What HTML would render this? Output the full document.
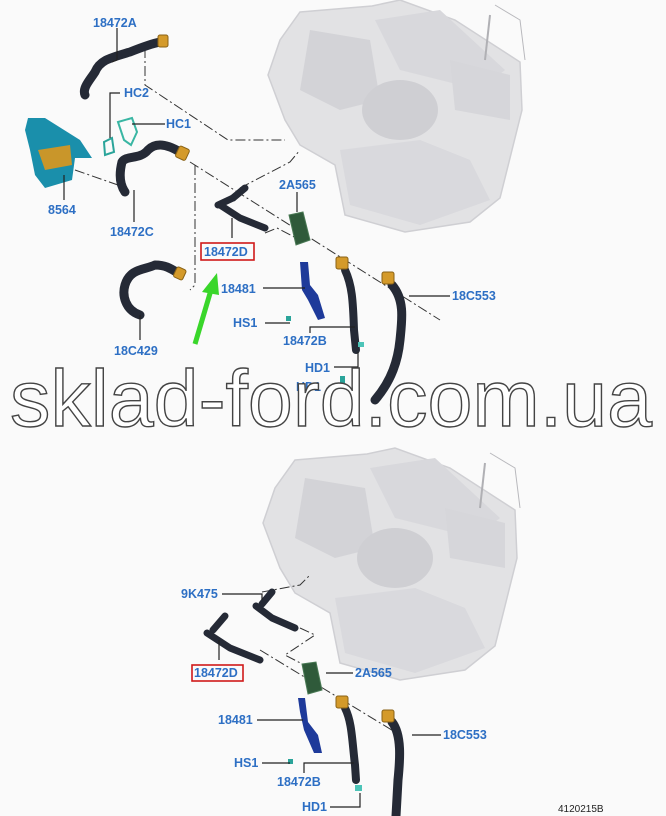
<!DOCTYPE html>
<html><head><meta charset="utf-8"><style>
html,body{margin:0;padding:0;background:#fafafa;}
svg{display:block}
.l{font-family:"Liberation Sans",sans-serif;font-weight:bold;font-size:12.5px;fill:#2d6fc4}
.ln{stroke:#222;stroke-width:1.2;fill:none}
.d{stroke:#333;stroke-width:1;fill:none;stroke-dasharray:10 3 2 3}
.h{stroke:#252a36;stroke-width:9;fill:none;stroke-linecap:round;stroke-linejoin:round}
.h2{stroke:#3c4458;stroke-width:4;fill:none;stroke-linecap:round;opacity:.6}
.o{fill:#d49a2a;stroke:#8a6215;stroke-width:1}
</style></head><body>
<svg width="666" height="816" viewBox="0 0 666 816" xmlns="http://www.w3.org/2000/svg">
<rect width="666" height="816" fill="#fafafa"/>
<defs>
<g id="unit">
<polygon points="300,12 372,6 400,0 455,20 520,62 522,110 512,150 500,198 470,222 405,232 345,215 335,165 300,145 285,120 268,75 280,40" fill="#e2e2e4" stroke="#cfcfd3" stroke-width="1.5"/>
<polygon points="310,30 370,40 380,100 340,110 300,90" fill="#d3d3d7"/>
<polygon points="375,20 440,10 505,70 480,90 400,70" fill="#d8d8dc"/>
<ellipse cx="400" cy="110" rx="38" ry="30" fill="#cfcfd3"/>
<polygon points="340,150 420,140 470,160 490,200 420,225 350,205" fill="#d9d9dd"/>
<polygon points="450,60 510,75 510,120 455,110" fill="#d6d6da"/>
<path d="M495,5 L520,20 L525,60" stroke="#b8b8bc" fill="none"/>
<path d="M490,15 L485,60" stroke="#b0b0b4" stroke-width="2"/>
</g>
</defs>
<use href="#unit"/>
<use href="#unit" transform="translate(-5,448)"/>

<!-- TOP SECTION -->
<!-- dashed lines -->
<path class="d" d="M145,48 L145,85 L228,140 L285,140"/>
<path class="d" d="M75,170 L118,185"/>
<path class="d" d="M195,165 L195,285 L190,290"/>
<path class="d" d="M190,162 L440,320"/>
<path class="d" d="M240,188 L290,162 L300,150"/>
<path class="d" d="M265,233 L277,228 L300,240"/>
<!-- 18472A -->
<path class="h" d="M85,95 C82,88 90,80 95,72 C100,60 110,58 130,52 C140,48 150,44 160,42"/>
<rect class="o" x="158" y="35" width="10" height="12" rx="2"/>
<!-- 8564 bracket -->
<polygon points="28,118 45,118 80,140 92,158 75,158 72,180 45,188 35,175 30,150 25,130" fill="#1a8fab"/>
<polygon points="38,150 70,145 72,165 45,170" fill="#c9962a"/>
<!-- HC1/HC2 clips -->
<path d="M104,142 L112,138 L114,152 L105,155 Z" fill="none" stroke="#2aa49a" stroke-width="2"/>
<path d="M118,122 L132,118 L137,132 L131,145 L124,140 Z" fill="none" stroke="#39b6a3" stroke-width="2"/>
<!-- 18472C -->
<path class="h" d="M125,192 C118,182 120,170 122,162 C126,155 140,160 148,150 C155,143 165,143 180,152"/>
<rect class="o" x="177" y="147" width="11" height="12" rx="2" transform="rotate(25 182 153)"/>
<!-- 18472D -->
<path class="h" d="M218,205 L233,198 M220,205 L240,218 L265,228" style="stroke-width:7"/>
<path class="h" d="M233,198 L245,188" style="stroke-width:7"/>
<!-- 2A565 -->
<polygon points="289,215 303,212 310,240 296,245" fill="#2f5a3a" stroke="#4a7a55"/>
<!-- 18C429 -->
<path class="h" d="M140,315 C125,310 122,295 125,285 C130,268 145,270 155,265 C165,265 170,268 178,273"/>
<rect class="o" x="175" y="268" width="10" height="11" rx="2" transform="rotate(25 180 273)"/>
<!-- 18481 -->
<polygon points="300,262 308,262 310,285 318,295 325,318 318,320 308,300 302,290" fill="#1e3a9a"/>
<!-- 18472B -->
<path class="h" d="M345,270 C352,285 353,300 354,330 L356,350" style="stroke-width:8"/>
<rect class="o" x="336" y="257" width="12" height="12" rx="2"/>
<!-- 18C553 -->
<path class="h" d="M392,285 C405,300 402,320 400,340 C398,360 392,380 375,400"/>
<rect class="o" x="382" y="272" width="12" height="12" rx="2"/>
<rect x="286" y="316" width="5" height="5" fill="#2aa49a"/>
<rect x="358" y="342" width="6" height="5" fill="#4cc4b8"/>
<rect x="340" y="376" width="5" height="7" fill="#2aa49a"/>

<!-- leaders top -->
<path class="ln" d="M117,28 L117,60 L112,62"/>
<path class="ln" d="M120,93 L110,93 L110,138"/>
<path class="ln" d="M165,124 L132,124"/>
<path class="ln" d="M64,200 L64,175"/>
<path class="ln" d="M134,222 L134,190"/>
<path class="ln" d="M297,192 L297,212"/>
<path class="ln" d="M232,238 L232,218"/>
<path class="ln" d="M263,288 L305,288"/>
<path class="ln" d="M265,323 L290,323"/>
<path class="ln" d="M310,333 L310,327 L355,327"/>
<path class="ln" d="M450,296 L409,296"/>
<path class="ln" d="M140,340 L140,315"/>
<path class="ln" d="M334,367 L358,367 L358,352"/>

<text class="l" x="93" y="27">18472A</text>
<text class="l" x="124" y="97">HC2</text>
<text class="l" x="166" y="128">HC1</text>
<text class="l" x="48" y="214">8564</text>
<text class="l" x="110" y="236">18472C</text>
<text class="l" x="279" y="189">2A565</text>
<rect x="201" y="243" width="53" height="17" fill="none" stroke="#d01a1a" stroke-width="1.6"/>
<text class="l" x="204" y="256">18472D</text>
<text class="l" x="221" y="293">18481</text>
<text class="l" x="233" y="327">HS1</text>
<text class="l" x="283" y="345">18472B</text>
<text class="l" x="452" y="300">18C553</text>
<text class="l" x="114" y="355">18C429</text>
<text class="l" x="305" y="372">HD1</text>
<text class="l" x="296" y="391">HD1</text>
<!-- green arrow -->
<path d="M195,344 L211,290" stroke="#39d62a" stroke-width="5"/>
<polygon points="217,273 202,292 219,295" fill="#39d62a"/>

<!-- watermark -->
<text x="10" y="426" textLength="642" lengthAdjust="spacingAndGlyphs" font-family="Liberation Sans, sans-serif" font-size="80" fill="#ffffff" stroke="#444" stroke-width="1.4">sklad-ford.com.ua</text>

<!-- BOTTOM SECTION -->
<path class="d" d="M262,592 L300,585 L310,575"/>
<path class="d" d="M300,628 L315,635 L285,655 L310,668"/>
<path class="d" d="M260,650 L400,735"/>
<path class="h" d="M262,604 L272,592 M256,606 L272,618 L295,628" style="stroke-width:7"/>
<path class="h" d="M213,630 L225,616 M207,633 L230,648 L260,660" style="stroke-width:7"/>
<polygon points="302,664 316,662 322,690 308,694" fill="#2f5a3a" stroke="#4a7a55"/>
<polygon points="298,698 305,698 308,722 318,735 322,753 314,753 304,730 300,712" fill="#1e3a9a"/>
<path class="h" d="M345,708 C352,722 352,740 355,765 L356,780" style="stroke-width:8"/>
<rect class="o" x="336" y="696" width="12" height="12" rx="2"/>
<path class="h" d="M392,722 C402,735 400,760 398,780 L396,816"/>
<rect class="o" x="382" y="710" width="12" height="12" rx="2"/>
<rect x="288" y="759" width="5" height="5" fill="#2aa49a"/>
<rect x="355" y="785" width="7" height="6" fill="#4cc4b8"/>

<path class="ln" d="M222,594 L262,594 L262,600"/>
<path class="ln" d="M219,660 L219,640"/>
<path class="ln" d="M353,673 L326,673"/>
<path class="ln" d="M257,720 L303,720"/>
<path class="ln" d="M441,735 L412,735"/>
<path class="ln" d="M262,763 L290,763"/>
<path class="ln" d="M304,773 L304,763 L354,763"/>
<path class="ln" d="M330,807 L360,807 L360,793"/>

<text class="l" x="181" y="598">9K475</text>
<rect x="192" y="665" width="51" height="16" fill="none" stroke="#d01a1a" stroke-width="1.6"/>
<text class="l" x="194" y="677">18472D</text>
<text class="l" x="355" y="677">2A565</text>
<text class="l" x="218" y="724">18481</text>
<text class="l" x="443" y="739">18C553</text>
<text class="l" x="234" y="767">HS1</text>
<text class="l" x="277" y="786">18472B</text>
<text class="l" x="302" y="811">HD1</text>
<text x="558" y="812" font-family="Liberation Sans, sans-serif" font-size="10" fill="#222">4120215B</text>
</svg>
</body></html>
